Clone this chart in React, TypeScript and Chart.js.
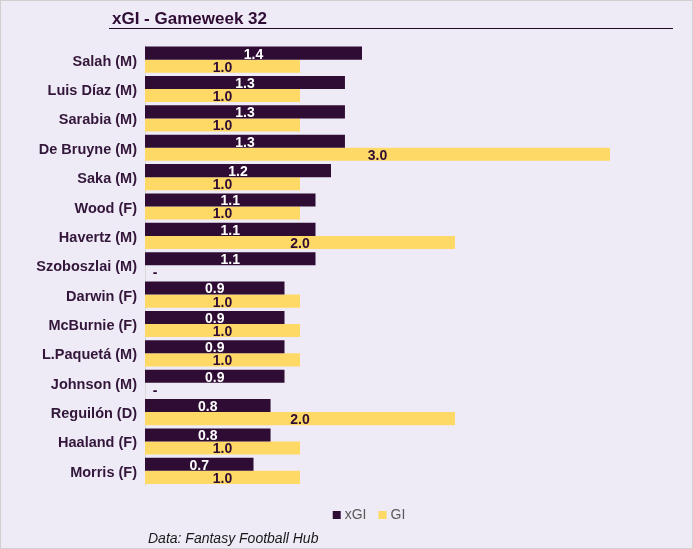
import React, { useEffect, useRef } from "react";
import { Chart, registerables } from "chart.js";

Chart.register(...registerables);

// chart data
const players = [
  "Salah (M)",
  "Luis Díaz (M)",
  "Sarabia (M)",
  "De Bruyne (M)",
  "Saka (M)",
  "Wood (F)",
  "Havertz (M)",
  "Szoboszlai (M)",
  "Darwin (F)",
  "McBurnie (F)",
  "L.Paquetá (M)",
  "Johnson (M)",
  "Reguilón (D)",
  "Haaland (F)",
  "Morris (F)",
];
const xgiValues = [1.4, 1.29, 1.29, 1.29, 1.2, 1.1, 1.1, 1.1, 0.9, 0.9, 0.9, 0.9, 0.81, 0.81, 0.7];
const giValues = [1, 1, 1, 3, 1, 1, 2, 0, 1, 1, 1, 0, 2, 1, 1];
const seriesNames = ["xGI", "GI"];
const chartTitle = "xGI - Gameweek 32";
const sourceNote = "Data: Fantasy Football Hub";

const DARK = "#2f0c34";
const YELLOW = "#ffd966";
const BG = "#eeebf7";
const FONT = "'Liberation Sans', Arial, sans-serif";

// value labels in the middle of each bar, "-" for zero
const barLabels = {
  id: "barLabels",
  afterDatasetsDraw(chart: any) {
    const ctx = chart.ctx;
    ctx.save();
    ctx.font = `bold 14px ${FONT}`;
    ctx.textAlign = "center";
    ctx.textBaseline = "middle";
    chart.data.datasets.forEach((ds: any, di: number) => {
      const meta = chart.getDatasetMeta(di);
      meta.data.forEach((bar: any, i: number) => {
        const v = ds.data[i] as number;
        const { x, y, base } = bar.getProps(["x", "y", "base"], true);
        const text = v === 0 ? "-" : v.toFixed(1);
        const cx = v === 0 ? base + 10 : (x + base) / 2;
        ctx.fillStyle = di === 0 ? "#ffffff" : DARK;
        ctx.fillText(text, cx, y + 1.5);
      });
    });
    ctx.restore();
  },
};

// background, title with rule, legend, source note, frame
const frame = {
  id: "frame",
  beforeDraw(chart: any) {
    const ctx = chart.ctx;
    ctx.save();
    ctx.fillStyle = BG;
    ctx.fillRect(0, 0, chart.width, chart.height);
    ctx.restore();
  },
  afterDraw(chart: any) {
    const ctx = chart.ctx;
    ctx.save();
    ctx.fillStyle = DARK;
    ctx.font = `bold 17px ${FONT}`;
    ctx.textBaseline = "alphabetic";
    ctx.textAlign = "left";
    ctx.fillText(chartTitle, 112, 23.5);
    ctx.strokeStyle = "#1f0a22";
    ctx.lineWidth = 1;
    ctx.beginPath();
    ctx.moveTo(109, 28.5);
    ctx.lineTo(673, 28.5);
    ctx.stroke();

    // legend, centred under the plot
    ctx.font = `14px ${FONT}`;
    ctx.textBaseline = "middle";
    const box = 8;
    const gap = 4;
    const itemGap = 12;
    const widths = seriesNames.map((n) => box + gap + ctx.measureText(n).width);
    const total = widths.reduce((a, b) => a + b, 0) + itemGap * (widths.length - 1);
    let lx = 369 - total / 2;
    const ly = 515;
    seriesNames.forEach((name, i) => {
      ctx.fillStyle = chart.data.datasets[i].backgroundColor;
      ctx.fillRect(lx, ly - box / 2, box, box);
      ctx.fillStyle = "#595959";
      ctx.fillText(name, lx + box + gap, ly + 0.5);
      lx += widths[i] + itemGap;
    });

    ctx.fillStyle = "#1a1a1a";
    ctx.font = `italic 14px ${FONT}`;
    ctx.textBaseline = "alphabetic";
    ctx.fillText(sourceNote, 148, 543);
    ctx.strokeStyle = "#d0d0d0";
    ctx.strokeRect(0.5, 0.5, chart.width - 1, chart.height - 1);
    ctx.restore();
  },
};

const XgiChart: React.FC = () => {
  const chartRef = useRef<HTMLCanvasElement>(null);

  useEffect(() => {
    if (!chartRef.current) return;
    const myChart = new Chart(chartRef.current, {
      type: "bar",
      data: {
        labels: players,
        datasets: [
          {
            label: seriesNames[0],
            data: xgiValues,
            backgroundColor: DARK,
            borderWidth: 0,
            categoryPercentage: 0.89,
            barPercentage: 1,
          },
          {
            label: seriesNames[1],
            data: giValues,
            backgroundColor: YELLOW,
            borderWidth: 0,
            categoryPercentage: 0.89,
            barPercentage: 1,
          },
        ],
      },
      options: {
        indexAxis: "y",
        animation: false,
        responsive: false,
        maintainAspectRatio: false,
        layout: {
          padding: { top: 45, left: 0, right: 21, bottom: 63.5 },
        },
        plugins: {
          legend: { display: false },
          tooltip: { enabled: false },
        },
        scales: {
          x: {
            display: false,
            min: 0,
            max: 3.4,
          },
          y: {
            grid: { display: false, drawTicks: false },
            border: { display: true, color: "#d9d9d9" },
            ticks: {
              color: "#33163a",
              padding: 8,
              labelOffset: 2,
              font: { size: 14.5, weight: "bold", family: FONT },
            },
            afterFit: (scale: any) => {
              scale.width = 145;
            },
          },
        },
      },
      plugins: [frame, barLabels],
    });

    return () => {
      myChart.destroy();
    };
  }, []);

  return (
    <div style={{ position: "fixed", left: 0, top: 0, width: 693, height: 549 }}>
      <canvas ref={chartRef} width={693} height={549} style={{ display: "block" }} />
    </div>
  );
};

export default function App() {
  return <XgiChart />;
}
